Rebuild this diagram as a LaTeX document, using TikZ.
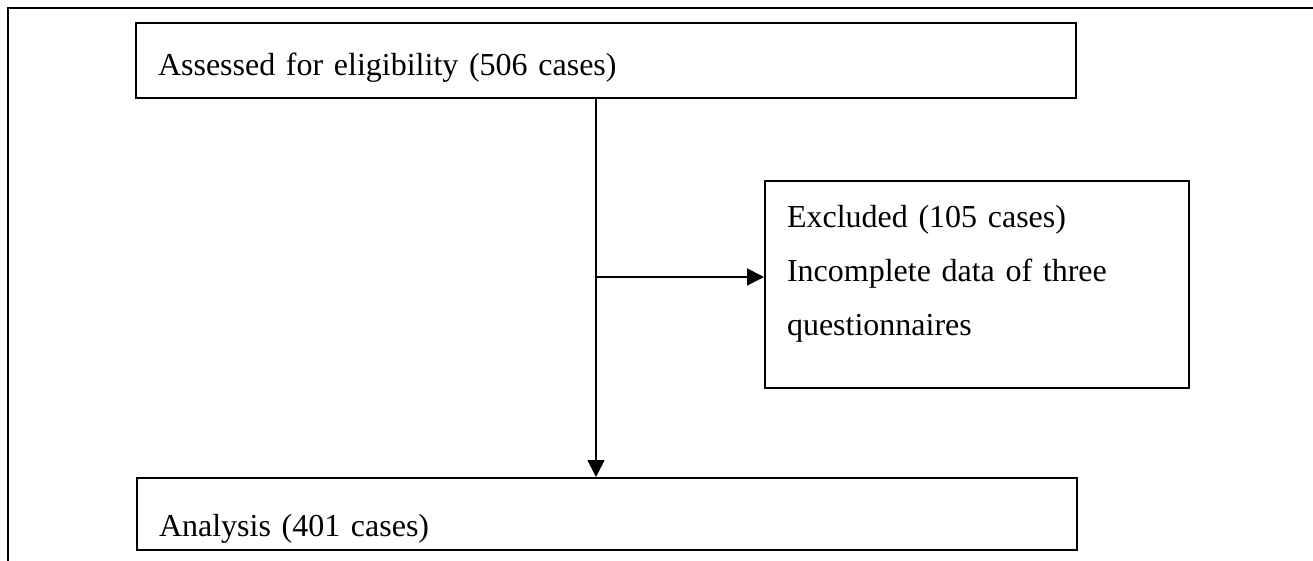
\documentclass[tikz,border=0pt]{standalone}
\usepackage{fontspec}
\setmainfont{Liberation Serif}
\usetikzlibrary{positioning,arrows.meta}

\begin{document}
\begin{tikzpicture}[x=0.5pt,y=-0.5pt]
 \tikzset{box/.style={draw,line width=1pt,anchor=north west,align=left,inner ysep=0pt,inner xsep=11pt,
   font=\fontsize{16}{27}\selectfont},
  arrow/.style={line width=0.9pt,-{Triangle[length=8.5pt,width=8.5pt]}}}
 \useasboundingbox (0,0) rectangle (1313,561);
 \draw[line width=1pt] (8,561) -- (8,8) -- (1313,8);

 \node[box,text width=448pt,text height=26.5pt,text depth=11pt] (assess) at (135,22) {Assessed for eligibility (506 cases)};
 \node[box,text width=190pt,text height=23.5pt,text depth=80pt] (excl) at (764,180) {Excluded (105 cases)\\Incomplete data of three\\questionnaires};
 \node[box,text width=448pt,text height=29pt,text depth=7pt] (analysis) at (136,477) {Analysis (401 cases)};

 \coordinate (split) at (596,277);
 \draw[arrow] (assess.south -| split) -- (analysis.north -| split);
 \draw[arrow] (split) -- (excl.west |- split);
\end{tikzpicture}
\end{document}
